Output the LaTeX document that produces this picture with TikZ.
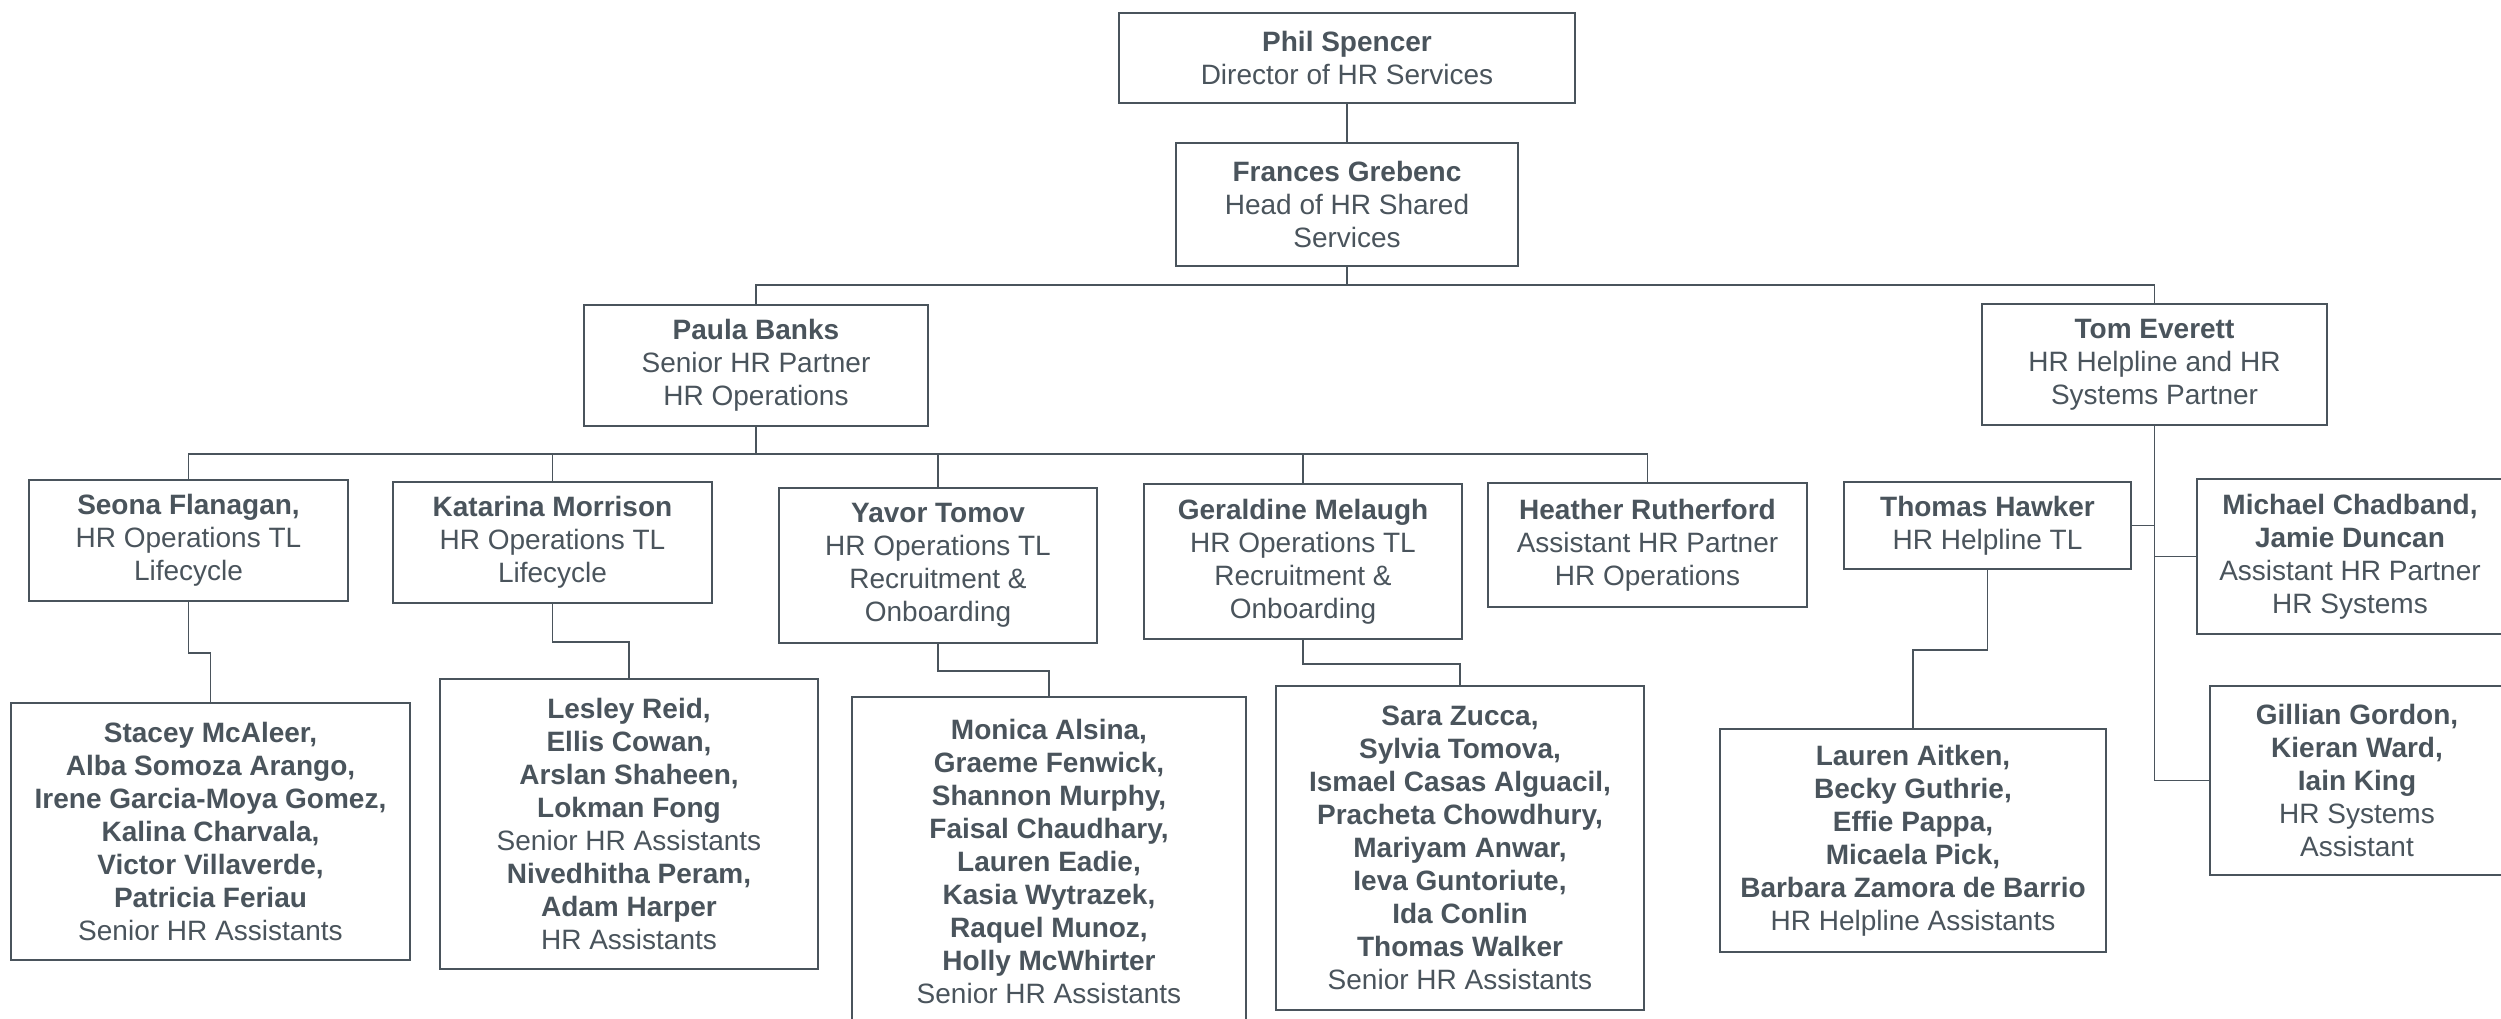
\documentclass[tikz,border=0pt]{standalone}
\usepackage{fontspec}
\setmainfont{Liberation Sans}
\definecolor{ink}{RGB}{74,84,92}
\begin{document}
\begin{tikzpicture}[x=1pt,y=-1pt,
  box/.style 2 args={draw=ink, line width=1.6pt, align=center, text=ink,
    font=\fontsize{28}{33}\selectfont, inner sep=0pt, anchor=center,
    minimum width=#1pt, minimum height=#2pt},
  link/.style={draw=ink, line width=1.6pt}]
\useasboundingbox[fill=white] (0,0) rectangle (2501,1018);

% level 0-1
\node[box={456}{90}] (ps) at (1347,58) {\textbf{Phil Spencer}\\Director of HR Services};
\node[box={342}{123}] (fg) at (1347,204.5) {\textbf{Frances Grebenc}\\Head of HR Shared\\Services};
% level 2
\node[box={344}{121}] (pb) at (756,365.5) {\textbf{Paula Banks}\\Senior HR Partner\\HR Operations};
\node[box={345}{121}] (te) at (2154.5,364.5) {\textbf{Tom Everett}\\HR Helpline and HR\\Systems Partner};
% level 3
\node[box={319}{121}] (sf) at (188.5,540.5) {\textbf{Seona Flanagan,}\\HR Operations TL\\Lifecycle};
\node[box={319}{121}] (km) at (552.5,542.5) {\textbf{Katarina Morrison}\\HR Operations TL\\Lifecycle};
\node[box={318}{155}] (yt) at (938,565.5) {\textbf{Yavor Tomov}\\HR Operations TL\\Recruitment \&\\Onboarding};
\node[box={318}{155}] (gm) at (1303,561.5) {\textbf{Geraldine Melaugh}\\HR Operations TL\\Recruitment \&\\Onboarding};
\node[box={319}{124}] (hr) at (1647.5,545) {\textbf{Heather Rutherford}\\Assistant HR Partner\\HR Operations};
\node[box={287}{87}] (th) at (1987.5,525.5) {\textbf{Thomas Hawker}\\HR Helpline TL};
\node[box={306}{155}] (mc) at (2350,556.5) {\textbf{Michael Chadband,}\\\textbf{Jamie Duncan}\\Assistant HR Partner\\HR Systems};
% level 4
\node[box={399}{257}] (sm) at (210.5,831.5) {\textbf{Stacey McAleer,}\\\textbf{Alba Somoza Arango,}\\\textbf{Irene Garcia-Moya Gomez,}\\\textbf{Kalina Charvala,}\\\textbf{Victor Villaverde,}\\\textbf{Patricia Feriau}\\Senior HR Assistants};
\node[box={378}{290}] (lr) at (629,824) {\textbf{Lesley Reid,}\\\textbf{Ellis Cowan,}\\\textbf{Arslan Shaheen,}\\\textbf{Lokman Fong}\\Senior HR Assistants\\\textbf{Nivedhitha Peram,}\\\textbf{Adam Harper}\\HR Assistants};
\node[box={394}{328}] (ma) at (1049,861) {\textbf{Monica Alsina,}\\\textbf{Graeme Fenwick,}\\\textbf{Shannon Murphy,}\\\textbf{Faisal Chaudhary,}\\\textbf{Lauren Eadie,}\\\textbf{Kasia Wytrazek,}\\\textbf{Raquel Munoz,}\\\textbf{Holly McWhirter}\\Senior HR Assistants};
\node[box={368}{324}] (sz) at (1460,848) {\textbf{Sara Zucca,}\\\textbf{Sylvia Tomova,}\\\textbf{Ismael Casas Alguacil,}\\\textbf{Pracheta Chowdhury,}\\\textbf{Mariyam Anwar,}\\\textbf{Ieva Guntoriute,}\\\textbf{Ida Conlin}\\\textbf{Thomas Walker}\\Senior HR Assistants};
\node[box={386}{223}] (la) at (1913,840.5) {\textbf{Lauren Aitken,}\\\textbf{Becky Guthrie,}\\\textbf{Effie Pappa,}\\\textbf{Micaela Pick,}\\\textbf{Barbara Zamora de Barrio}\\HR Helpline Assistants};
\node[box={294}{189}] (gg) at (2357,780.5) {\textbf{Gillian Gordon,}\\\textbf{Kieran Ward,}\\\textbf{Iain King}\\HR Systems\\Assistant};

% connectors
\coordinate (b1) at (1347,285);
\coordinate (b2) at (756,454);
\draw[link] (ps.south) -- (fg.north);
\draw[link] (fg.south) -- (b1) -| (pb.north);
\draw[link] (b1) -| (te.north);
\draw[link] (pb.south) -- (b2);
\foreach \c in {sf,km,yt,gm,hr} \draw[link] (b2) -| (\c.north);
\draw[link] (te.south) |- (gg.west);
\draw[link] (te.south) |- (th.east);
\draw[link] (te.south) |- (mc.west);
\draw[link] (sf.south) -- ++(0,51) -| (sm.north);
\draw[link] (km.south) -- ++(0,38) -| (lr.north);
\draw[link] (yt.south) -- ++(0,27) -| (ma.north);
\draw[link] (gm.south) -- ++(0,24) -| (sz.north);
\draw[link] (th.south) -- ++(0,80) -| (la.north);
\end{tikzpicture}
\end{document}
